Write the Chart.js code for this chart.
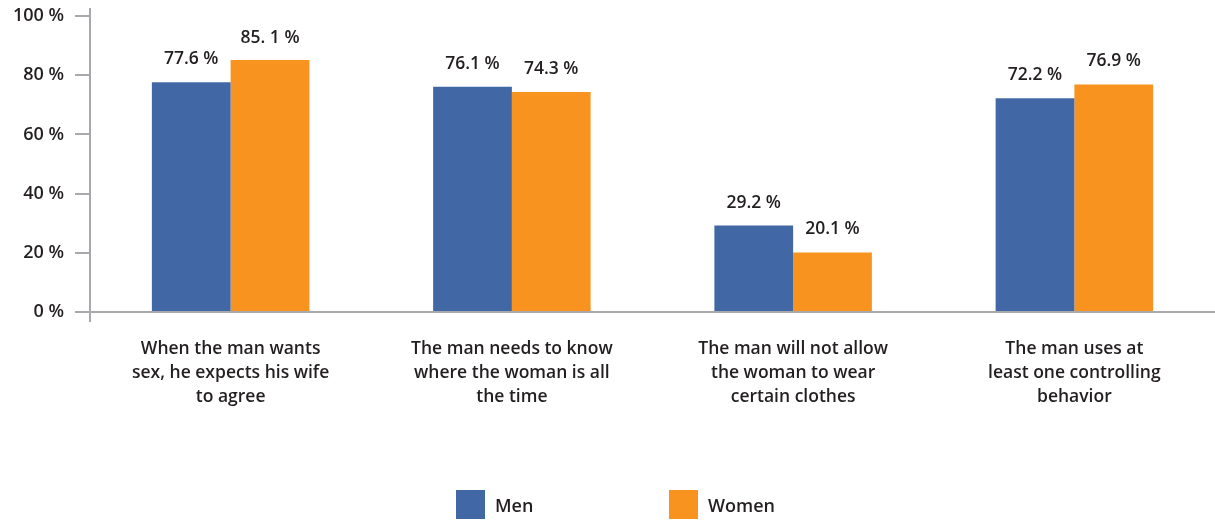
<!DOCTYPE html>
<html>
<head>
<meta charset="utf-8">
<script src="https://cdn.jsdelivr.net/npm/chart.js@4/dist/chart.umd.min.js"></script>
<style>
  html, body { margin: 0; padding: 0; background: #fff; }
  #wrap { width: 1215px; height: 521px; }
</style>
</head>
<body>
<div id="wrap"><canvas id="myChart"></canvas></div>
<script>
    const categories = [
        ["When the man wants", "sex, he expects his wife", "to agree"],
        ["The man needs to know", "where the woman is all", "the time"],
        ["The man will not allow", "the woman to wear", "certain clothes"],
        ["The man uses at", "least one controlling", "behavior"]
    ];
    const menValues = [77.6, 76.1, 29.2, 72.2];
    const womenValues = [85.1, 74.3, 20.1, 76.9];
    const menLabels = ["77.6 %", "76.1 %", "29.2 %", "72.2 %"];
    const womenLabels = ["85. 1 %", "74.3 %", "20.1 %", "76.9 %"];
    const yTicks = [0, 20, 40, 60, 80, 100];

    const axisColor = '#a7a9ac';
    const textColor = '#231f20';
    const fontFamily = '"Open Sans", "Liberation Sans", sans-serif';

    // values printed above each bar
    const barValues = {
        id: 'barValues',
        afterDatasetsDraw(chart) {
            const ctx = chart.ctx;
            const top = chart.chartArea.top;
            ctx.save();
            ctx.font = '600 17.5px ' + fontFamily;
            ctx.fillStyle = textColor;
            ctx.textAlign = 'center';
            ctx.textBaseline = 'middle';
            chart.data.datasets.forEach((ds, i) => {
                chart.getDatasetMeta(i).data.forEach((bar, j) => {
                    const y = Math.max(bar.y - 23, top + 22);
                    ctx.fillText(ds.valueLabels[j], bar.x, y);
                });
            });
            ctx.restore();
        }
    };

    // axis lines run a little past the plot area
    const axisExtend = {
        id: 'axisExtend',
        afterDraw(chart) {
            const ctx = chart.ctx;
            const area = chart.chartArea;
            ctx.save();
            ctx.strokeStyle = axisColor;
            ctx.lineWidth = 2;
            ctx.beginPath();
            ctx.moveTo(area.left, area.top - 8);
            ctx.lineTo(area.left, area.bottom + 10);
            ctx.moveTo(area.left - 15, area.bottom);
            ctx.lineTo(chart.width, area.bottom);
            ctx.stroke();
            ctx.restore();
        }
    };

    // legend along the bottom, wide spacing between items
    const bottomLegend = {
        id: 'bottomLegend',
        afterDraw(chart) {
            const ctx = chart.ctx;
            const box = 29, gap = 213, y = 490;
            const sets = chart.data.datasets;
            ctx.save();
            ctx.font = '600 18px ' + fontFamily;
            const lastW = ctx.measureText(sets[sets.length - 1].label).width;
            const total = gap * (sets.length - 1) + box + 10 + lastW;
            let x = chart.width / 2 - total / 2 + 8;
            ctx.textBaseline = 'middle';
            ctx.textAlign = 'left';
            sets.forEach(ds => {
                ctx.fillStyle = ds.backgroundColor;
                ctx.fillRect(x, y, box, box);
                ctx.fillStyle = textColor;
                ctx.fillText(ds.label, x + box + 10, y + box / 2 + 2);
                x += gap;
            });
            ctx.restore();
        }
    };

    const data = {
        labels: categories,
        datasets: [{
            label: 'Men',
            data: menValues,
            valueLabels: menLabels,
            backgroundColor: '#4267a5'
        }, {
            label: 'Women',
            data: womenValues,
            valueLabels: womenLabels,
            backgroundColor: '#f7931e'
        }]
    };

    const config = {
        type: 'bar',
        data: data,
        options: {
            responsive: true,
            maintainAspectRatio: false,
            animation: false,
            layout: { padding: { top: 16, left: 0, right: 0, bottom: 0 } },
            datasets: {
                bar: { categoryPercentage: 0.56, barPercentage: 1.0 }
            },
            plugins: {
                legend: { display: false },
                tooltip: { enabled: false }
            },
            scales: {
                x: {
                    grid: { display: false },
                    border: { display: true, color: axisColor, width: 2 },
                    ticks: {
                        padding: 17,
                        maxRotation: 0,
                        autoSkip: false,
                        color: textColor,
                        font: { family: fontFamily, size: 17.5, weight: '600', lineHeight: 1.37 }
                    },
                    afterFit(scale) { scale.height = 209; }
                },
                y: {
                    min: 0,
                    max: 100,
                    afterBuildTicks(scale) {
                        scale.ticks = yTicks.map(v => ({ value: v }));
                    },
                    grid: {
                        drawOnChartArea: false,
                        drawTicks: true,
                        tickLength: 15,
                        color: axisColor,
                        lineWidth: 2
                    },
                    border: { display: true, color: axisColor, width: 2 },
                    ticks: {
                        padding: 11,
                        color: textColor,
                        font: { family: fontFamily, size: 18, weight: '600', lineHeight: 1.0 },
                        callback: (v) => v + ' %'
                    },
                    afterFit(scale) {
                        scale.width = 90;
                        scale.paddingTop = 0;
                    }
                }
            }
        },
        plugins: [barValues, axisExtend, bottomLegend]
    };

    const myChart = new Chart(document.getElementById('myChart'), config);
</script>
</body>
</html>
